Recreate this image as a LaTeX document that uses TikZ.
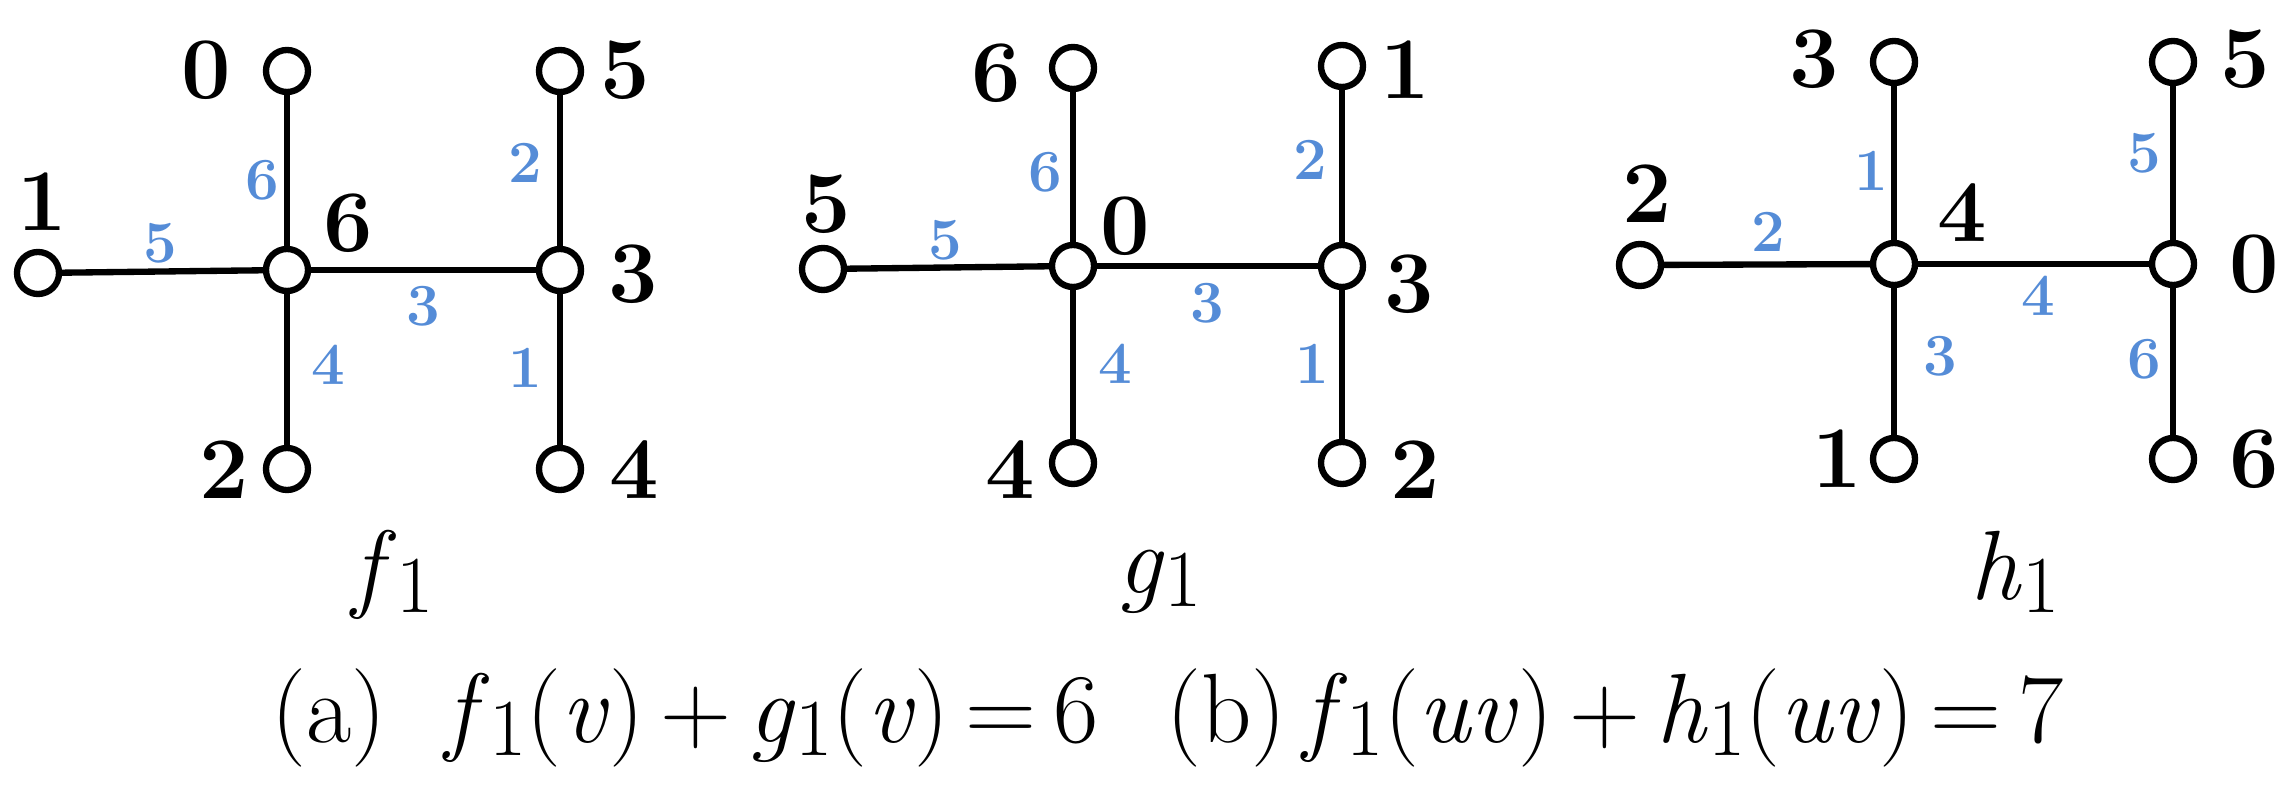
\documentclass[tikz,border=0pt]{standalone}
\definecolor{eblue}{RGB}{85,140,215}
\newcommand{\lowone}{\raisebox{-0.3ex}{\fontsize{23}{23}\selectfont 1}}
\begin{document}
\begin{tikzpicture}[x=0.01cm,y=-0.01cm,
  vtx/.style={circle,draw,line width=1.8pt,minimum size=0.42cm,inner sep=0pt,fill=white},
  edg/.style={line width=1.8pt},
  vlab/.style={font=\fontsize{25}{25}\selectfont\bfseries},
  elab/.style={font=\fontsize{17}{17}\selectfont\bfseries,text=eblue},
  captxt/.style={font=\fontsize{28}{28}\selectfont}]
\useasboundingbox (0,0) rectangle (2283,798);
% f1
\node[vtx] (fc) at (287,270) {};
\node[vtx] (fl) at (38,273) {};
\node[vtx] (ft) at (287,71) {};
\node[vtx] (fb) at (287,469) {};
\node[vtx] (fr) at (560,270) {};
\node[vtx] (frt) at (560,71) {};
\node[vtx] (frb) at (560,469) {};
\draw[edg] (fl) -- (fc); \draw[edg] (ft) -- (fc); \draw[edg] (fb) -- (fc);
\draw[edg] (fc) -- (fr); \draw[edg] (frt) -- (fr); \draw[edg] (frb) -- (fr);
\node[vlab] (f0) at (206,70) {0};
\node[vlab] (f1) at (42,202) {1};
\node[vlab] (f6) at (348,223) {6};
\node[vlab] (f5) at (625,70) {5};
\node[vlab] (f3) at (633,274) {3};
\node[vlab] (f2) at (224,470) {2};
\node[vlab] (f4) at (634,470) {4};
\node[elab] (fe5) at (160,243) {5};
\node[elab] (fe6) at (262,180) {6};
\node[elab] (fe2) at (525,163) {2};
\node[elab] (fe3) at (423,306) {3};
\node[elab] (fe4) at (328,365) {4};
\node[elab] (fe1) at (525,368) {1};
\node[captxt] (fcap) at (393,575) {\textit{f}\lowone};
% g1
\node[vtx] (gc) at (1073,266) {};
\node[vtx] (gl) at (823,269) {};
\node[vtx] (gt) at (1073,68) {};
\node[vtx] (gb) at (1073,463) {};
\node[vtx] (gr) at (1342,266) {};
\node[vtx] (grt) at (1342,66) {};
\node[vtx] (grb) at (1342,463) {};
\draw[edg] (gl) -- (gc); \draw[edg] (gt) -- (gc); \draw[edg] (gb) -- (gc);
\draw[edg] (gc) -- (gr); \draw[edg] (grt) -- (gr); \draw[edg] (grb) -- (gr);
\node[vlab] (g6) at (996,73) {6};
\node[vlab] (g5) at (826,204) {5};
\node[vlab] (g0) at (1125,226) {0};
\node[vlab] (g1) at (1405,70) {1};
\node[vlab] (g3) at (1409,284) {3};
\node[vlab] (g4) at (1010,470) {4};
\node[vlab] (g2) at (1415,470) {2};
\node[elab] (ge6) at (1045,172) {6};
\node[elab] (ge5) at (945,240) {5};
\node[elab] (ge2) at (1310,160) {2};
\node[elab] (ge3) at (1207,303) {3};
\node[elab] (ge4) at (1115,364) {4};
\node[elab] (ge1) at (1312,364) {1};
\node[captxt] (gcap) at (1160,582) {\textit{g}\lowone};
% h1
\node[vtx] (hc) at (1894,264) {};
\node[vtx] (hl) at (1640,265) {};
\node[vtx] (ht) at (1894,62) {};
\node[vtx] (hb) at (1894,459) {};
\node[vtx] (hr) at (2173,264) {};
\node[vtx] (hrt) at (2173,62) {};
\node[vtx] (hrb) at (2173,459) {};
\draw[edg] (hl) -- (hc); \draw[edg] (ht) -- (hc); \draw[edg] (hb) -- (hc);
\draw[edg] (hc) -- (hr); \draw[edg] (hrt) -- (hr); \draw[edg] (hrb) -- (hr);
\node[vlab] (h3) at (1814,59) {3};
\node[vlab] (h2) at (1647,194) {2};
\node[vlab] (h4) at (1962,213) {4};
\node[vlab] (h5) at (2245,59) {5};
\node[vlab] (h0) at (2254,264) {0};
\node[vlab] (h1) at (1837,459) {1};
\node[vlab] (h6) at (2254,459) {6};
\node[elab] (he1) at (1871,171) {1};
\node[elab] (he2) at (1768,232) {2};
\node[elab] (he5) at (2144,153) {5};
\node[elab] (he4) at (2038,296) {4};
\node[elab] (he3) at (1940,356) {3};
\node[elab] (he6) at (2144,359) {6};
\node[captxt] (hcap) at (2015,572) {\textit{h}\lowone};
% captions
\node[captxt] (capa) at (685,718) {(a)\ \ \textit{f}\lowone(\textit{v})\,+\,\textit{g}\lowone(\textit{v})\,=\,6};
\node[captxt] (capb) at (1615,718) {(b)\,\textit{f}\lowone(\textit{uv})\,+\,\textit{h}\lowone(\textit{uv})\,=\,7};
\end{tikzpicture}
\end{document}
